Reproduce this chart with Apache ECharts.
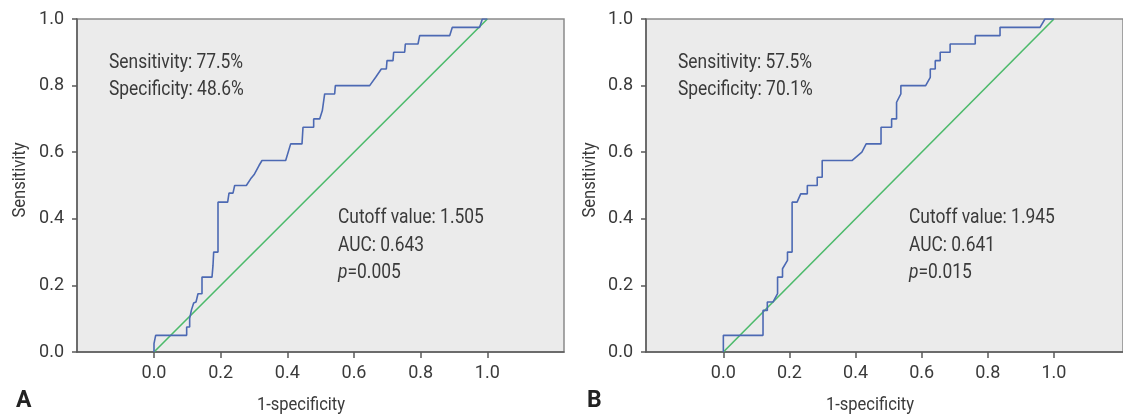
<!DOCTYPE html>
<html>
<head>
<meta charset="utf-8">
<script src="https://cdn.jsdelivr.net/npm/echarts@6/dist/echarts.min.js"></script>
<style>
    html, body { margin: 0; padding: 0; background: #fff; }
    #roc { width: 1123px; height: 416px; }
</style>
</head>
<body>
<div id="roc"></div>
<script type="text/javascript">
    // 1-specificity / sensitivity
    var fprA = [0, 0, 0.005, 0.005, 0.098, 0.098, 0.107, 0.107, 0.112, 0.119, 0.122, 0.126, 0.132, 0.144, 0.144,
        0.174, 0.177, 0.179, 0.192, 0.192, 0.221, 0.225, 0.237, 0.242, 0.277, 0.29, 0.3, 0.315, 0.324,
        0.395, 0.41, 0.444, 0.447, 0.479, 0.479, 0.497, 0.505, 0.512, 0.542, 0.544, 0.647, 0.665, 0.682,
        0.697, 0.699, 0.717, 0.719, 0.752, 0.754, 0.792, 0.797, 0.887, 0.895, 0.977, 0.985, 1];
    var tprA = [0, 0.025, 0.025, 0.05, 0.05, 0.075, 0.075, 0.1, 0.125, 0.147, 0.15, 0.15, 0.175, 0.175, 0.225,
        0.225, 0.26, 0.3, 0.3, 0.45, 0.45, 0.477, 0.477, 0.5, 0.5, 0.52, 0.532, 0.56, 0.575,
        0.575, 0.625, 0.625, 0.675, 0.675, 0.7, 0.7, 0.725, 0.775, 0.775, 0.8, 0.8, 0.825, 0.85,
        0.85, 0.875, 0.875, 0.9, 0.9, 0.925, 0.925, 0.95, 0.95, 0.975, 0.975, 1, 1];

    var fprB = [0, 0, 0.12, 0.12, 0.133, 0.133, 0.15, 0.164, 0.164, 0.179, 0.179, 0.194, 0.194, 0.208, 0.208,
        0.223, 0.234, 0.254, 0.254, 0.284, 0.284, 0.299, 0.299, 0.389, 0.419, 0.432, 0.477, 0.477,
        0.509, 0.509, 0.524, 0.524, 0.537, 0.537, 0.612, 0.626, 0.626, 0.641, 0.641, 0.656, 0.656,
        0.686, 0.686, 0.762, 0.762, 0.837, 0.837, 0.958, 0.973, 1];
    var tprB = [0, 0.05, 0.05, 0.125, 0.125, 0.15, 0.15, 0.175, 0.225, 0.225, 0.25, 0.275, 0.3, 0.3, 0.45,
        0.45, 0.475, 0.475, 0.5, 0.5, 0.525, 0.525, 0.575, 0.575, 0.6, 0.625, 0.625, 0.675,
        0.675, 0.7, 0.7, 0.75, 0.775, 0.8, 0.8, 0.825, 0.85, 0.85, 0.875, 0.875, 0.9,
        0.9, 0.925, 0.925, 0.95, 0.95, 0.975, 0.975, 1, 1];

    var refLine = [[0, 0], [1, 1]];
    var tickVals = [0, 0.2, 0.4, 0.6, 0.8, 1.0];

    var statsA = ['Sensitivity: 77.5%', 'Specificity: 48.6%'];
    var cutA = ['Cutoff value: 1.505', 'AUC: 0.643', '{i|p}=0.005'];
    var statsB = ['Sensitivity: 57.5%', 'Specificity: 70.1%'];
    var cutB = ['Cutoff value: 1.945', 'AUC: 0.641', '{i|p}=0.015'];

    var FONT = 'Roboto, sans-serif';
    var TXT = '#3a3a3a';
    var AXIS = '#5a5a5a';
    var SQUEEZE = 0.87;   // the original uses a condensed face

    function zip(xs, ys) {
        var out = [];
        for (var i = 0; i < xs.length; i++) {
            out.push([xs[i], ys[i]]);
        }
        return out;
    }

    function fmt(v) { return v.toFixed(1); }

    function xAxisOf(idx, min, max) {
        return {
            gridIndex: idx, type: 'value', min: min, max: max,
            axisLine: { onZero: false, lineStyle: { color: AXIS, width: 1.5 } },
            axisTick: { customValues: tickVals, length: 6, lineStyle: { color: AXIS, width: 1.5 } },
            axisLabel: { customValues: tickVals, formatter: fmt, margin: 12, color: TXT, fontSize: 18, fontFamily: FONT },
            splitLine: { show: false }
        };
    }

    function yAxisOf(idx) {
        return {
            gridIndex: idx, type: 'value', min: 0, max: 1, interval: 0.2,
            axisLine: { onZero: false, lineStyle: { color: AXIS, width: 1.5 } },
            axisTick: { length: 5, lineStyle: { color: AXIS, width: 1.5 } },
            axisLabel: { formatter: fmt, margin: 13, color: TXT, fontSize: 18, fontFamily: FONT },
            splitLine: { show: false }
        };
    }

    function label(text, x, y, size, opts) {
        opts = opts || {};
        return {
            type: 'text', x: x, y: y, scaleX: SQUEEZE, rotation: opts.rotation || 0,
            style: {
                text: text, fill: TXT, fontSize: size, fontFamily: FONT,
                align: opts.align || 'left', verticalAlign: 'middle',
                rich: { i: { fontStyle: 'italic', fontSize: size, fontFamily: FONT, fill: TXT } }
            }
        };
    }

    function textLines(lines, x, y0) {
        var els = [];
        for (var i = 0; i < lines.length; i++) {
            els.push(label(lines[i], x, y0 + i * 27.5, 20));
        }
        return els;
    }

    var graphics = [].concat(
        textLines(statsA, 109, 62.5),
        textLines(cutA, 338, 218),
        textLines(statsB, 678, 62.5),
        textLines(cutB, 909, 218),
        [
            { type: 'text', left: 16, top: 390, style: { text: 'A', fill: '#222', fontSize: 23, fontWeight: 'bold', fontFamily: FONT } },
            { type: 'text', left: 587, top: 390, style: { text: 'B', fill: '#222', fontSize: 23, fontWeight: 'bold', fontFamily: FONT } },
            label('1-specificity', 301, 405, 19, { align: 'center' }),
            label('1-specificity', 870, 405, 19, { align: 'center' }),
            label('Sensitivity', 20, 180, 19, { align: 'center', rotation: Math.PI / 2 }),
            label('Sensitivity', 590, 180, 19, { align: 'center', rotation: Math.PI / 2 })
        ]
    );

    function curve(idx, data, color) {
        return {
            type: 'line', xAxisIndex: idx, yAxisIndex: idx, data: data,
            showSymbol: false, silent: true, animation: false,
            lineStyle: { color: color, width: 1.6 }
        };
    }

    var option = {
        animation: false,
        grid: [
            { left: 77, top: 19, width: 487, height: 333, show: true, backgroundColor: '#ebebeb', borderColor: '#8a8a8a', borderWidth: 1.5 },
            { left: 646, top: 19, width: 480, height: 333, show: true, backgroundColor: '#ebebeb', borderColor: '#8a8a8a', borderWidth: 1.5 }
        ],
        xAxis: [xAxisOf(0, -0.231, 1.23), xAxisOf(1, -0.234, 1.209)],
        yAxis: [yAxisOf(0), yAxisOf(1)],
        series: [
            curve(0, refLine, '#4cba6b'),
            curve(0, zip(fprA, tprA), '#4c69b3'),
            curve(1, refLine, '#4cba6b'),
            curve(1, zip(fprB, tprB), '#4c69b3')
        ],
        graphic: graphics
    };

    var rocChart = echarts.init(document.getElementById('roc'));
    rocChart.setOption(option);
</script>
</body>
</html>
